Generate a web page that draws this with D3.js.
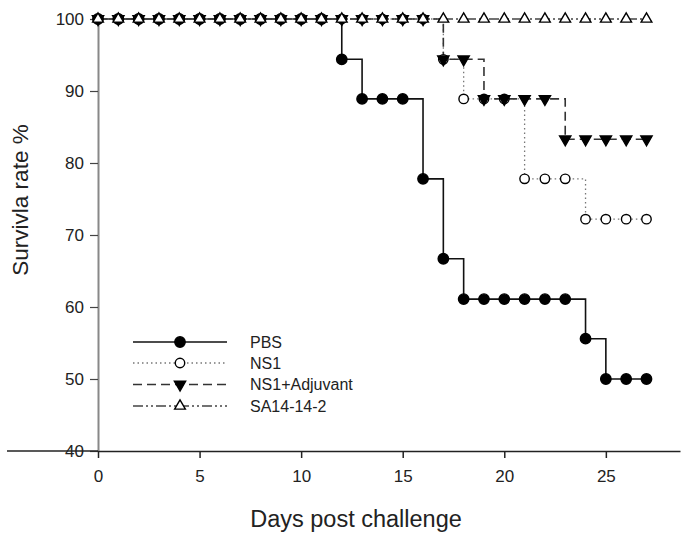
<!DOCTYPE html>
<html>
<head>
<meta charset="utf-8">
<script src="https://cdn.jsdelivr.net/npm/d3@7"></script>
<style>
  body { margin: 0; background: #fff; }
  text { font-family: Arial, "Liberation Sans", sans-serif; fill: #222; }
</style>
</head>
<body>
<script>
const days = d3.range(0, 28);
// survival % per day (n = 18 per group)
const pbs = [100,100,100,100,100,100,100,100,100,100,100,100,94.4,88.9,88.9,88.9,77.8,66.7,61.1,61.1,61.1,61.1,61.1,61.1,55.6,50,50,50];
const ns1 = [100,100,100,100,100,100,100,100,100,100,100,100,100,100,100,100,100,94.4,88.9,88.9,88.9,77.8,77.8,77.8,72.2,72.2,72.2,72.2];
const ns1Adj = [100,100,100,100,100,100,100,100,100,100,100,100,100,100,100,100,100,94.4,94.4,88.9,88.9,88.9,88.9,83.3,83.3,83.3,83.3,83.3];
const sa14 = [100,100,100,100,100,100,100,100,100,100,100,100,100,100,100,100,100,100,100,100,100,100,100,100,100,100,100,100];
const seriesNames = ["PBS", "NS1", "NS1+Adjuvant", "SA14-14-2"];
const xTicks = [0, 5, 10, 15, 20, 25];
const yTicks = [40, 50, 60, 70, 80, 90, 100];

const w = 685, h = 540;

const xScale = d3.scaleLinear().domain([0, 28.65]).range([98, 680]);
const yScale = d3.scaleLinear().domain([40, 100]).range([451, 19]);

const svg = d3.select("body").append("svg")
  .attr("width", w).attr("height", h);

const styles = [
  { dash: null, stroke: "#111", width: 1.6, sym: d3.symbolCircle, fill: "#000", size: 85, rot: 0 },
  { dash: "1.5,3", stroke: "#777", width: 1.3, sym: d3.symbolCircle, fill: "#fff", size: 70, rot: 0 },
  { dash: "9,5", stroke: "#333", width: 1.6, sym: d3.symbolTriangle, fill: "#000", size: 55, rot: 180 },
  { dash: "10,3,2,3,2,3", stroke: "#444", width: 1.3, sym: d3.symbolTriangle, fill: "#fff", size: 50, rot: 0 }
];
const allSeries = [pbs, ns1, ns1Adj, sa14];

const line = d3.line()
  .x((d, i) => xScale(days[i]))
  .y(d => yScale(d))
  .curve(d3.curveStepAfter);

// axes
const xAxis = d3.axisBottom(xScale).tickValues(xTicks).tickSize(7).tickSizeOuter(0);
const yAxis = d3.axisLeft(yScale).tickValues(yTicks).tickSize(8).tickSizeOuter(0);

const gy = svg.append("g").attr("transform", "translate(98,0)").call(yAxis);
gy.select(".domain").attr("stroke", "#888").attr("stroke-width", 2);
gy.selectAll(".tick line").attr("stroke", "#444").attr("stroke-width", 1.2);
gy.selectAll(".tick text").attr("font-size", 17).attr("x", -14);

const gx = svg.append("g").attr("transform", "translate(0,451)").call(xAxis);
gx.select(".domain").attr("stroke", "#222").attr("stroke-width", 1.5);
gx.selectAll(".tick line").attr("stroke", "#222").attr("stroke-width", 1.5);
gx.selectAll(".tick text").attr("font-size", 17).attr("dy", "1.25em");
// the baseline runs on past the y axis to the left
gx.append("line")
  .attr("x1", 7).attr("x2", xScale(0))
  .attr("stroke", "#222").attr("stroke-width", 1.5);

// lines
allSeries.forEach((s, k) => {
  svg.append("path")
    .datum(s)
    .attr("d", line)
    .attr("fill", "none")
    .attr("stroke", styles[k].stroke)
    .attr("stroke-width", styles[k].width)
    .attr("stroke-dasharray", styles[k].dash);
});

// markers
allSeries.forEach((s, k) => {
  const st = styles[k];
  svg.append("g").selectAll("path")
    .data(s)
    .enter()
    .append("path")
    .attr("d", d3.symbol().type(st.sym).size(st.size))
    .attr("transform", (d, i) => "translate(" + xScale(days[i]) + "," + yScale(d) + ") rotate(" + st.rot + ")")
    .attr("fill", st.fill)
    .attr("stroke", "#000")
    .attr("stroke-width", 1.4);
});

// legend
const legY = [342, 363, 384.5, 406];
seriesNames.forEach((name, k) => {
  const st = styles[k];
  const g = svg.append("g").attr("transform", "translate(0," + legY[k] + ")");
  g.append("line")
    .attr("x1", 133).attr("x2", 227)
    .attr("stroke", st.stroke)
    .attr("stroke-width", st.width)
    .attr("stroke-dasharray", st.dash);
  g.append("path")
    .attr("d", d3.symbol().type(st.sym).size(st.size))
    .attr("transform", "translate(180,0) rotate(" + st.rot + ")")
    .attr("fill", st.fill)
    .attr("stroke", "#000")
    .attr("stroke-width", 1.4);
  g.append("text")
    .attr("x", 250).attr("dy", "0.35em")
    .attr("font-size", 16)
    .text(name);
});

// axis titles
svg.append("text")
  .attr("text-anchor", "middle")
  .attr("transform", "translate(28,200) rotate(-90)")
  .attr("font-size", 22.5)
  .text("Survivla rate %");

svg.append("text")
  .attr("text-anchor", "middle")
  .attr("x", 356).attr("y", 527)
  .attr("font-size", 23.5)
  .text("Days post challenge");
</script>
</body>
</html>
